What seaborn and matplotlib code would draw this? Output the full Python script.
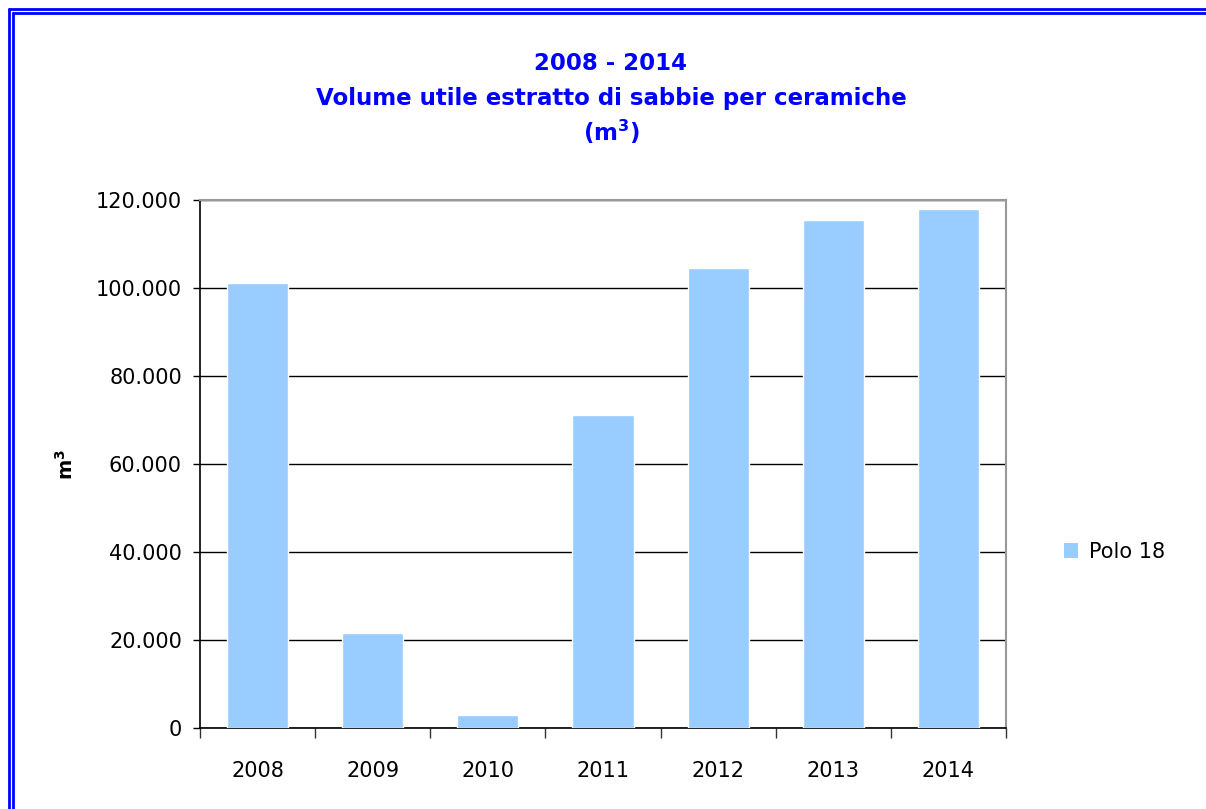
import matplotlib
matplotlib.use("Agg")
import matplotlib.pyplot as plt
import matplotlib.ticker as mticker
import pandas as pd
import seaborn as sns
from matplotlib.lines import Line2D
from matplotlib.patches import Patch

years = ["2008", "2009", "2010", "2011", "2012", "2013", "2014"]
volumes = [101200, 21600, 3000, 71200, 104500, 115400, 118000]
series_name = "Polo 18"
yticks = [0, 20000, 40000, 60000, 80000, 100000, 120000]

df = pd.DataFrame({"anno": years, "volume": volumes, "serie": series_name})

sns.set_style("white")
plt.rcParams["font.family"] = ["DejaVu Sans"]
plt.rcParams["mathtext.fontset"] = "dejavusans"

fig = plt.figure(figsize=(12.06, 8.09), dpi=100)
ax = fig.add_axes([200 / 1206, 1 - 728 / 809, 806 / 1206, 528 / 809])

bar_color = "#99ccff"
sns.barplot(data=df, x="anno", y="volume", color=bar_color, saturation=1, width=0.53,
            edgecolor="white", linewidth=1, ax=ax, zorder=3)

ax.set_xlim(-0.5, len(years) - 0.5)
ax.set_ylim(0, 120000)
ax.set_yticks(yticks)
ax.yaxis.set_major_formatter(
    mticker.FuncFormatter(lambda v, _: f"{int(v):,}".replace(",", ".")))
ax.yaxis.grid(True, color="black", linewidth=1, zorder=0)
ax.set_axisbelow(True)

# x ticks sit between categories
ax.set_xticks([i - 0.5 for i in range(len(years) + 1)], minor=True)
ax.tick_params(axis="x", which="minor", bottom=True, length=7, width=1, color="#333333",
               direction="out")
ax.tick_params(axis="x", which="major", bottom=True, length=0, pad=24, labelsize=15,
               labelcolor="black")
ax.tick_params(axis="y", length=5, width=1, color="black", direction="out", left=True,
               labelsize=15, pad=8, labelcolor="black")

for side in ["left", "bottom"]:
    ax.spines[side].set_color("black")
    ax.spines[side].set_linewidth(1.2)
for side in ["top", "right"]:
    ax.spines[side].set_color("#999999")
    ax.spines[side].set_linewidth(1.5)

ax.set_xlabel("")
ax.set_ylabel(r"m$^{\mathbf{3}}$", fontsize=14, fontweight="bold", labelpad=14,
              color="black")

title_kw = dict(ha="center", va="center", fontsize=16.5, fontweight="bold", color="#0000ff")
fig.text(611 / 1206, 1 - 64 / 809, "2008 - 2014", **title_kw)
fig.text(611 / 1206, 1 - 98 / 809, "Volume utile estratto di sabbie per ceramiche", **title_kw)
fig.text(611 / 1206, 1 - 132 / 809, r"(m$^{\mathbf{3}}$)", **title_kw)

handle = Patch(facecolor=bar_color, edgecolor="none")
fig.legend([handle], [series_name], loc="center left",
           bbox_to_anchor=(1045 / 1206, 1 - 552 / 809), frameon=False,
           fontsize=15, handlelength=0.7, handleheight=0.7, handletextpad=0.5,
           labelcolor="black")

# double blue frame (left and top edges)
for off in (8.5, 12.5):
    fig.add_artist(Line2D([off / 1206, off / 1206], [0, 1 - off / 809],
                          color="#0000ff", linewidth=2.0, transform=fig.transFigure))
    fig.add_artist(Line2D([off / 1206, 1], [1 - off / 809, 1 - off / 809],
                          color="#0000ff", linewidth=2.0, transform=fig.transFigure))

fig.savefig("out.png", dpi=100)
